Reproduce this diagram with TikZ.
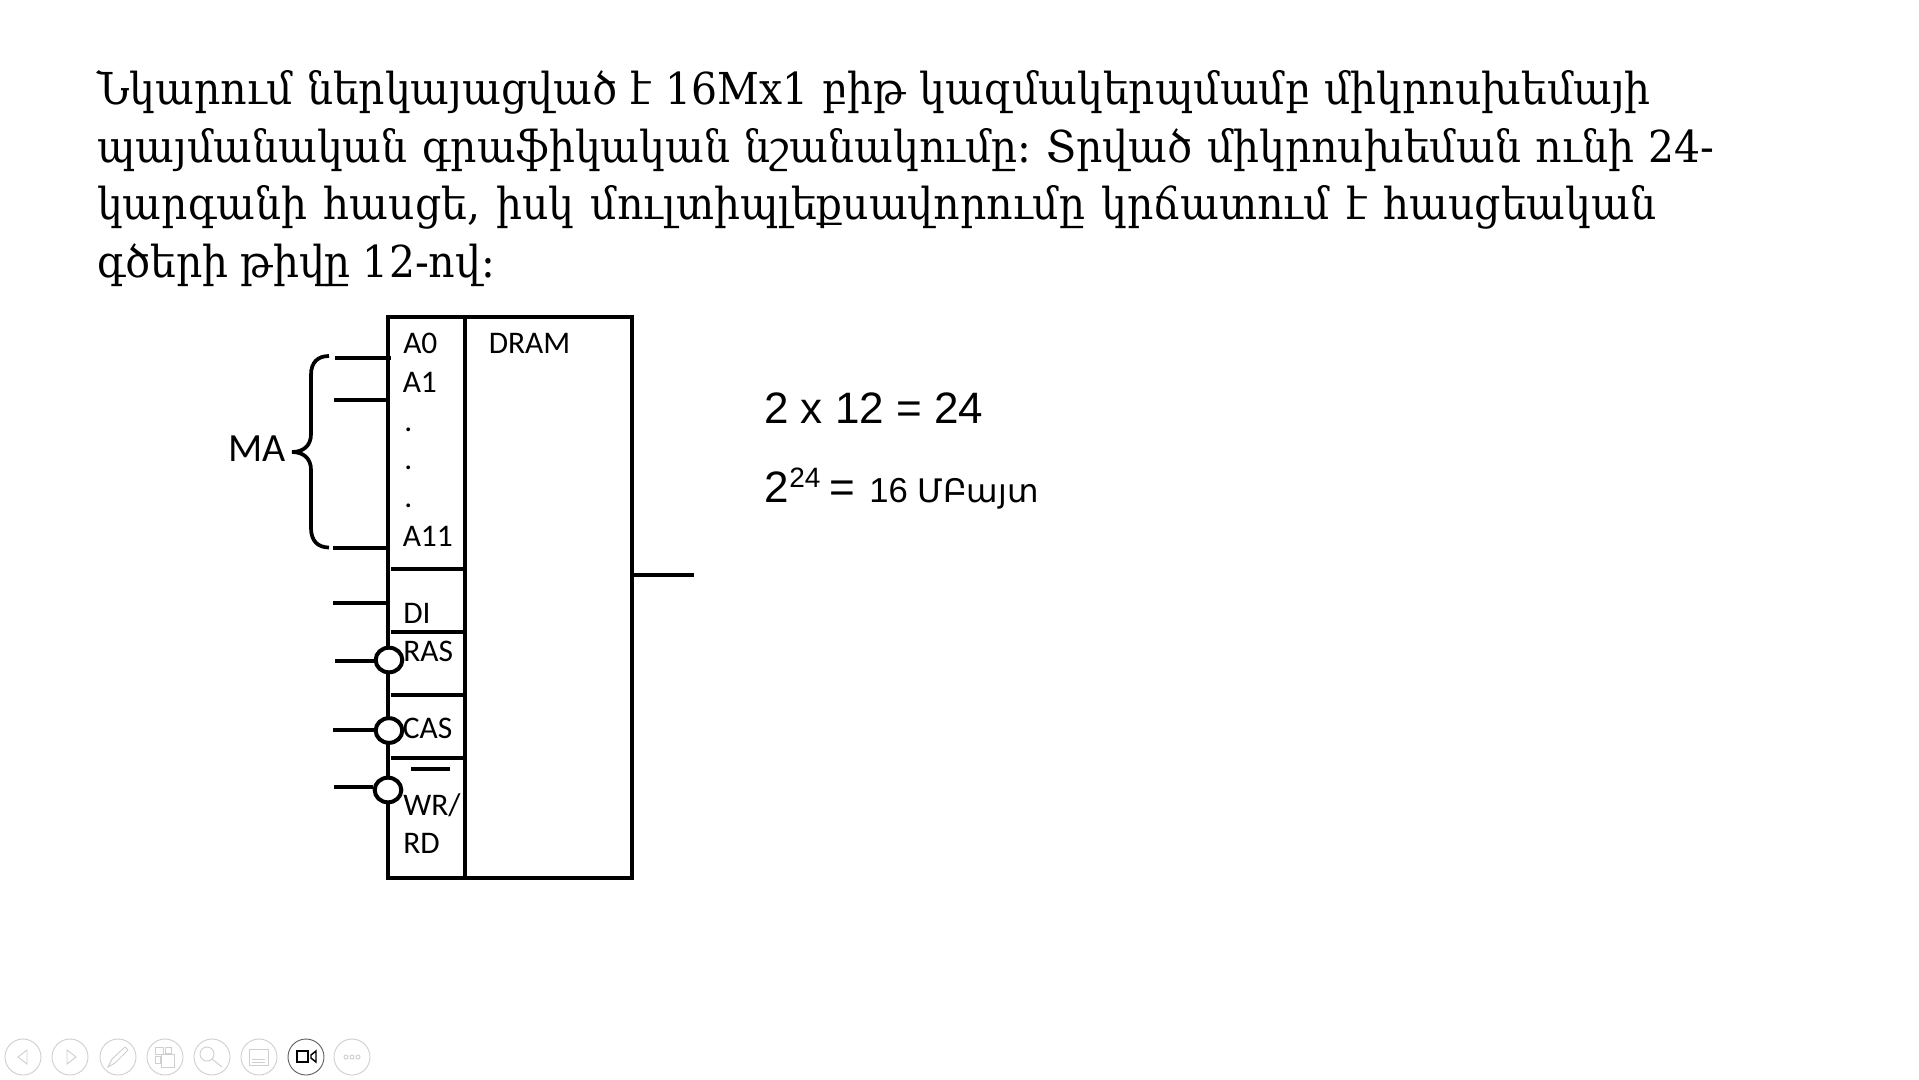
\documentclass[tikz,border=0pt]{standalone}
\usepackage{fontspec}
\setmainfont{Liberation Sans}
\newfontfamily\headfont[FakeStretch=0.93,Scale=1]{DejaVu Serif}
\newfontfamily\lblfont{Carlito}
\newfontfamily\armfont{DejaVu Sans}
\usetikzlibrary{shapes.geometric}
\definecolor{toolgray}{HTML}{CFCFCF}
\definecolor{tooldark}{HTML}{606060}
\tikzset{
  px/.style={x=0.75pt,y=-0.75pt},
  heading/.style={anchor=base west,inner sep=0pt,font=\headfont\fontsize{33}{33}\selectfont\frenchspacing},
  lbl/.style={anchor=base west,inner sep=0pt,font=\lblfont\fontsize{23.6}{24}\selectfont},
  malbl/.style={anchor=base west,inner sep=0pt,font=\lblfont\fontsize{30}{30}\selectfont},
  eqn/.style={anchor=base west,inner sep=0pt,font=\fontsize{33}{33}\selectfont},
  eqsmall/.style={anchor=base west,inner sep=0pt,font=\fontsize{26}{26}\selectfont},
  eqsup/.style={anchor=base west,inner sep=0pt,font=\fontsize{21}{21}\selectfont},
  boxline/.style={line width=3pt},
  wire/.style={line width=3pt},
  bubble/.style={ellipse,draw,fill=white,line width=3pt,minimum width=20pt,minimum height=18.5pt,inner sep=0pt},
  tool/.style={circle,draw=toolgray,line width=0.7pt,minimum size=27pt,inner sep=0pt},
  toolon/.style={circle,draw=tooldark,line width=0.7pt,minimum size=27pt,inner sep=0pt},
  glyph/.style={draw=toolgray,line width=0.7pt},
  glyphon/.style={draw=black,line width=1.1pt},
}
\begin{document}
\begin{tikzpicture}[px]
\useasboundingbox (0,0) rectangle (1919,1079);
% heading
\node[heading] (h1) at (97,104) {\spaceskip=10.3pt Նկարում ներկայացված է 16Mx1 բիթ կազմակերպմամբ միկրոսխեմայի};
\node[heading] (h2) at (97,162) {\spaceskip=11pt պայմանական գրաֆիկական նշանակումը: Տրված միկրոսխեման ունի 24-};
\node[heading] (h3) at (97,219) {\spaceskip=12.3pt կարգանի հասցե, իսկ մուլտիպլեքսավորումը կրճատում է հասցեական};
\node[heading] (h4) at (97,277) {\spaceskip=9pt գծերի թիվը 12-ով:};
% chip
\draw[boxline] (388,316.5) rectangle (632,877.5);
\draw[boxline] (465,316.5) -- (465,877.5);
\draw[wire] (391,568.5) -- (465,568.5);
\draw[wire] (391,631.5) -- (465,631.5);
\draw[wire] (391,694.5) -- (465,694.5);
\draw[wire] (391,757.5) -- (465,757.5);
\draw[wire] (411,768.5) -- (450,768.5);
% pins
\coordinate (ca0) at (391,358); \coordinate (pa0) at (335,358);
\coordinate (ca1) at (388,400); \coordinate (pa1) at (334,400);
\coordinate (ca11) at (388,547.5); \coordinate (pa11) at (333,547.5);
\coordinate (cdi) at (388,603); \coordinate (pdi) at (333,603);
\coordinate (cout) at (632,575); \coordinate (pout) at (694,575);
\draw[wire] (pa0) -- (ca0);
\draw[wire] (pa1) -- (ca1);
\draw[wire] (pa11) -- (ca11);
\draw[wire] (pdi) -- (cdi);
\draw[wire] (cout) -- (pout);
\coordinate (pras) at (335,661); \coordinate (pcas) at (333,730); \coordinate (pwr) at (334,787);
\node[bubble] (bras) at (389,660) {};
\node[bubble] (bcas) at (389,730.5) {};
\node[bubble] (bwr) at (388,790) {};
\draw[wire] (pras) -- (pras -| bras.west);
\draw[wire] (pcas) -- (pcas -| bcas.west);
\draw[wire] (pwr) -- (pwr -| bwr.west);
% brace
\draw[line width=2.8pt] (329,356) .. controls (318,356) and (311,362) .. (311,375)
  -- (311,434) .. controls (311,446) and (303,452) .. (292,452)
  .. controls (303,452) and (311,458) .. (311,470)
  -- (311,528) .. controls (311,541) and (318,547.5) .. (329,547.5);
% labels
\node[malbl] (ma) at (228,461) {MA};
\node[lbl] (a0) at (403,353.5) {A0};
\node[lbl] (a1) at (402.5,392) {A1};
\node[lbl] (d1) at (404,431) {.};
\node[lbl] (d2) at (404,469) {.};
\node[lbl] (d3) at (404,507) {.};
\node[lbl] (a11) at (402.5,546) {A11};
\node[lbl] (dram) at (488.5,353.5) {DRAM};
\node[lbl] (di) at (403,623) {DI};
\node[lbl] (ras) at (403,661.5) {RAS};
\node[lbl] (cas) at (402.5,738) {CAS};
\node[lbl] (wr) at (403,815) {WR/};
\node[lbl] (rd) at (403,853) {RD};
% equations
\node[eqn] (e1) at (764,423) {2 x 12 = 24};
\node[eqn] (e2) at (764,502) {2};
\node[eqsup] (e3) at (789,487) {24};
\node[eqn] (e4) at (829,502) {=};
\node[eqsmall] (e5) at (869,502) {16 {\armfont\fontsize{24.3}{24}\selectfont ՄԲայտ}};
% toolbar
\node[tool] (t1) at (23,1057) {};
\node[tool] (t2) at (70,1057) {};
\node[tool] (t3) at (118,1057) {};
\node[tool] (t4) at (165,1057) {};
\node[tool] (t5) at (212,1057) {};
\node[tool] (t6) at (259,1057) {};
\node[toolon] (t7) at (306,1057) {};
\node[tool] (t8) at (352,1057) {};
\draw[glyph] (27,1050) -- (18,1057) -- (27,1064) -- cycle;
\draw[glyph] (67,1050) -- (76,1057) -- (67,1064) -- cycle;
\draw[glyph] (108,1067) -- (112,1059) -- (125,1047) -- (128,1050) -- (115,1063) -- cycle;
\draw[glyph] (155,1047) rectangle (163,1054);
\draw[glyph] (165,1047) rectangle (171,1053);
\draw[glyph] (155,1056) rectangle (160,1063);
\draw[glyph] (161,1054) rectangle (174,1067);
\draw[glyph] (207,1054) circle (7);
\draw[glyph] (212,1059) -- (222,1067);
\draw[glyph] (249,1049) rectangle (268,1065);
\draw[glyph] (252,1059) -- (265,1059);
\draw[glyph] (252,1062) -- (265,1062);
\draw[glyph] (346,1057) circle (2);
\draw[glyph] (352,1057) circle (2);
\draw[glyph] (358,1057) circle (2);
\draw[glyphon] (297,1051) rectangle (308,1062);
\draw[glyphon] (316,1051) -- (311,1055) -- (311,1058) -- (316,1062) -- cycle;
\end{tikzpicture}
\end{document}
